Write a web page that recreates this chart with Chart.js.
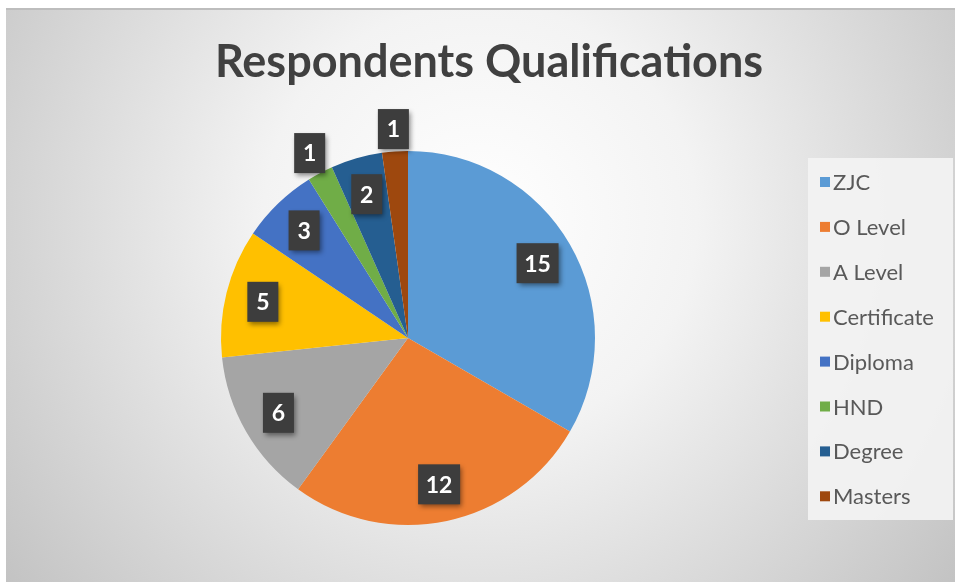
<!DOCTYPE html>
<html lang="en">
<head>
    <meta charset="UTF-8">
    <title>Respondents Qualifications</title>
    <script src="https://cdn.jsdelivr.net/npm/chart.js"></script>
    <style>
        html, body { margin: 0; padding: 0; background: #ffffff; }
        #wrap { width: 955px; height: 582px; position: relative; }
    </style>
</head>
<body>
    <div id="wrap">
        <canvas id="pieChart" width="955" height="582"></canvas>
    </div>
    <script>
        const chartTitle = 'Respondents Qualifications';
        const categories = ['ZJC', 'O Level', 'A Level', 'Certificate', 'Diploma', 'HND', 'Degree', 'Masters'];
        const counts = [15, 12, 6, 5, 3, 1, 2, 1];
        const sliceColors = ['#5B9BD5', '#ED7D31', '#A5A5A5', '#FFC000', '#4472C4', '#70AD47', '#255E91', '#9E480E'];

        const FONT = 'Lato, "Open Sans", sans-serif';

        // background gradient, frame line and title
        const backdrop = {
            id: 'backdrop',
            beforeDraw(chart) {
                const ctx = chart.ctx;
                ctx.save();
                ctx.fillStyle = '#ffffff';
                ctx.fillRect(0, 0, chart.width, chart.height);
                const g = ctx.createRadialGradient(480, 220, 0, 480, 220, 620);
                g.addColorStop(0, '#ffffff');
                g.addColorStop(0.35, '#f3f3f3');
                g.addColorStop(1, '#c0c0c0');
                ctx.fillStyle = g;
                ctx.fillRect(6, 9, chart.width - 6, chart.height - 9);
                ctx.fillStyle = '#bdbdbd';
                ctx.fillRect(6, 8, chart.width - 6, 2);
                ctx.fillStyle = '#404040';
                ctx.font = 'bold 45px ' + FONT;
                ctx.textAlign = 'center';
                ctx.textBaseline = 'middle';
                ctx.fillText(chartTitle, 489, 62);
                ctx.restore();
            }
        };

        // dark boxed value labels
        const valueLabels = {
            id: 'valueLabels',
            afterDatasetsDraw(chart) {
                const ctx = chart.ctx;
                const meta = chart.getDatasetMeta(0);
                const total = counts.reduce((a, b) => a + b, 0);
                ctx.save();
                ctx.font = 'bold 23px ' + FONT;
                ctx.textAlign = 'center';
                ctx.textBaseline = 'middle';
                meta.data.forEach((arc, i) => {
                    const p = arc.getProps(['x', 'y', 'startAngle', 'endAngle', 'outerRadius'], true);
                    const mid = (p.startAngle + p.endAngle) / 2;
                    const small = counts[i] / total < 0.04;
                    const r = p.outerRadius * (small ? 1.12 : 0.8);
                    const cx = p.x + Math.cos(mid) * r;
                    const cy = p.y + Math.sin(mid) * r;
                    const txt = String(counts[i]);
                    const w = txt.length > 1 ? 42 : 31;
                    const h = 40;
                    ctx.shadowColor = 'rgba(0,0,0,0.45)';
                    ctx.shadowBlur = 5;
                    ctx.shadowOffsetX = 2;
                    ctx.shadowOffsetY = 3;
                    ctx.fillStyle = '#3d3d3d';
                    ctx.fillRect(cx - w / 2, cy - h / 2, w, h);
                    ctx.shadowColor = 'transparent';
                    ctx.fillStyle = '#ffffff';
                    ctx.fillText(txt, cx, cy + 1);
                });
                ctx.restore();
            }
        };

        // legend box on the right
        const sideLegend = {
            id: 'sideLegend',
            afterDraw(chart) {
                const ctx = chart.ctx;
                const labels = chart.data.labels;
                const colors = chart.data.datasets[0].backgroundColor;
                ctx.save();
                ctx.fillStyle = 'rgba(243,243,243,0.92)';
                ctx.fillRect(808, 158, 145, 362);
                ctx.font = '22px ' + FONT;
                ctx.textBaseline = 'middle';
                ctx.textAlign = 'left';
                labels.forEach((lab, i) => {
                    const y = 182 + i * 44.9;
                    ctx.fillStyle = colors[i];
                    ctx.fillRect(820, y - 5, 10, 10);
                    ctx.fillStyle = '#595959';
                    ctx.fillText(lab, 833, y + 1);
                });
                ctx.restore();
            }
        };

        new Chart(document.getElementById('pieChart'), {
            type: 'pie',
            data: {
                labels: categories,
                datasets: [{
                    data: counts,
                    backgroundColor: sliceColors,
                    borderColor: sliceColors,
                    borderWidth: 0
                }]
            },
            options: {
                responsive: false,
                animation: false,
                layout: {
                    padding: { left: 221, right: 360, top: 151, bottom: 57 }
                },
                plugins: {
                    legend: { display: false },
                    title: { display: false },
                    tooltip: { enabled: false }
                }
            },
            plugins: [backdrop, valueLabels, sideLegend]
        });
    </script>
</body>
</html>
